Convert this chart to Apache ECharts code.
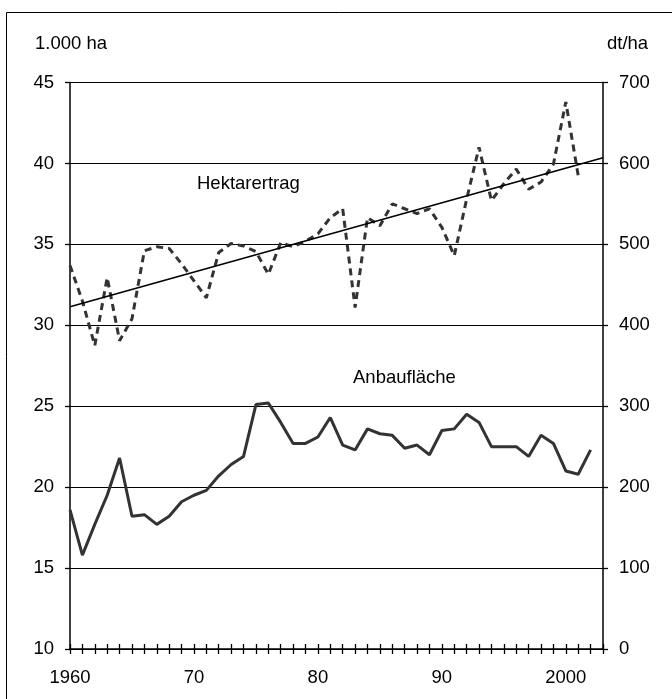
<!DOCTYPE html>
<html>
<head>
<meta charset="utf-8">
<script src="https://cdn.jsdelivr.net/npm/echarts@6/dist/echarts.min.js"></script>
<style>
html,body{margin:0;padding:0;background:#fff;}
#chart{width:672px;height:699px;}
</style>
</head>
<body>
<div id="chart"></div>
<script>
const years = [1960,1961,1962,1963,1964,1965,1966,1967,1968,1969,1970,1971,1972,1973,1974,1975,1976,1977,1978,1979,1980,1981,1982,1983,1984,1985,1986,1987,1988,1989,1990,1991,1992,1993,1994,1995,1996,1997,1998,1999,2000,2001,2002];
// Anbaufläche, 1.000 ha (left axis)
const anbauflaeche = [18.6,15.8,17.7,19.5,21.8,18.2,18.3,17.7,18.2,19.1,19.5,19.8,20.7,21.4,21.9,25.1,25.2,24.0,22.7,22.7,23.1,24.3,22.6,22.3,23.6,23.3,23.2,22.4,22.6,22.0,23.5,23.6,24.5,24.0,22.5,22.5,22.5,21.9,23.2,22.7,21.0,20.8,22.3];
// Hektarertrag, dt/ha (right axis), 1960-2001
const hektarertrag = [474,430,375,459,381,408,492,497,495,476,455,434,490,501,498,491,463,502,497,504,513,533,544,422,533,523,550,544,538,544,521,486,556,620,554,575,593,568,577,599,676,585];
// linear trend of Hektarertrag
const trendYears = [1960,2003];
const trendValues = [423,607];
const leftTicks = [10,15,20,25,30,35,40,45];
const rightTicks = [0,100,200,300,400,500,600,700];
const xLabels = {1960:'1960',1970:'70',1980:'80',1990:'90',2000:'2000'};

const FONT = "'Liberation Sans', Arial, sans-serif";
const chart = echarts.init(document.getElementById('chart'));
const xBase = {
  type:'value', min:1960, max:2003, interval:1, position:'bottom',
  splitLine:{show:false}
};
chart.setOption({
  animation:false,
  backgroundColor:'#fff',
  grid:{left:70, right:69, top:82.5, bottom:50, containLabel:false},
  graphic:[
    {type:'rect', shape:{x:6.5,y:12.5,width:720,height:720}, style:{fill:'none',stroke:'#000',lineWidth:1}, silent:true},
    {type:'text', left:35, top:34, style:{text:'1.000 ha', font:'18.5px '+FONT, fill:'#000'}},
    {type:'text', left:607, top:34, style:{text:'dt/ha', font:'18.5px '+FONT, fill:'#000'}},
    {type:'text', left:197, top:174, style:{text:'Hektarertrag', font:'18.5px '+FONT, fill:'#000'}},
    {type:'text', left:353, top:368, style:{text:'Anbaufläche', font:'18.5px '+FONT, fill:'#000'}}
  ],
  xAxis:[
    Object.assign({}, xBase, {
      axisLine:{show:true, lineStyle:{color:'#000', width:1.5}},
      axisTick:{show:true, inside:false, length:5, lineStyle:{color:'#000', width:1.3}},
      axisLabel:{show:true, margin:19, color:'#000', fontSize:18.5, fontFamily:FONT,
        formatter:v => xLabels[v] || ''}
    }),
    Object.assign({}, xBase, {
      axisLine:{show:false},
      axisTick:{show:true, inside:true, length:5, lineStyle:{color:'#000', width:1.3}},
      axisLabel:{show:false}
    })
  ],
  yAxis:[
    {type:'value', position:'left', min:leftTicks[0], max:leftTicks[leftTicks.length-1], interval:5,
      axisLine:{show:true, lineStyle:{color:'#000', width:1.5}},
      axisTick:{show:true, length:5, lineStyle:{color:'#000', width:1.3}},
      axisLabel:{color:'#000', fontSize:18.5, fontFamily:FONT, margin:16},
      splitLine:{show:true, lineStyle:{color:'#000', width:1.2}}
    },
    {type:'value', position:'right', min:rightTicks[0], max:rightTicks[rightTicks.length-1], interval:100,
      axisLine:{show:true, lineStyle:{color:'#000', width:1.5}},
      axisTick:{show:true, length:5, lineStyle:{color:'#000', width:1.3}},
      axisLabel:{color:'#000', fontSize:18.5, fontFamily:FONT, margin:16},
      splitLine:{show:false}
    }
  ],
  series:[
    {name:'Anbaufläche', type:'line', xAxisIndex:0, yAxisIndex:0, symbol:'none',
      lineStyle:{color:'#333', width:3}, data:years.map((y,i)=>[y, anbauflaeche[i]])},
    {name:'Hektarertrag', type:'line', xAxisIndex:0, yAxisIndex:1, symbol:'none',
      lineStyle:{color:'#333', width:3, type:[7,5]}, data:hektarertrag.map((v,i)=>[years[i], v])},
    {name:'Trend', type:'line', xAxisIndex:0, yAxisIndex:1, symbol:'none',
      lineStyle:{color:'#000', width:1.6}, data:trendYears.map((y,i)=>[y, trendValues[i]])}
  ]
});
</script>
</body>
</html>
